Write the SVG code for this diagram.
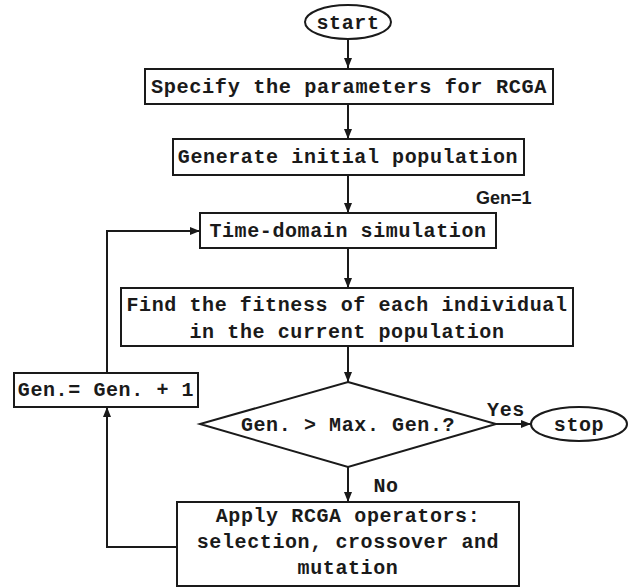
<svg xmlns="http://www.w3.org/2000/svg" width="630" height="588" viewBox="0 0 630 588">
<style>
.n{fill:#fff;stroke:#1a1a1a;stroke-width:2}
.t{font-family:"Liberation Mono","Courier New",monospace;font-weight:bold;font-size:20px;letter-spacing:0.6px;fill:#1a1a1a;text-anchor:middle}
.c{fill:none;stroke:#1a1a1a;stroke-width:2}
.s{font-family:"Liberation Sans",Arial,sans-serif;font-weight:bold;font-size:18px;fill:#1a1a1a}
</style>
<defs>
<marker id="ah" viewBox="0 0 10 10" refX="10" refY="5" markerWidth="10" markerHeight="10" markerUnits="userSpaceOnUse" orient="auto">
<path d="M0,1 L10,5 L0,9 Z" fill="#1a1a1a"/>
</marker>
</defs>
<rect width="630" height="588" fill="#fff"/>
<g id="connectors">
<line class="c" x1="348" y1="40" x2="348" y2="68" marker-end="url(#ah)"/>
<line class="c" x1="348" y1="104" x2="348" y2="139" marker-end="url(#ah)"/>
<line class="c" x1="348" y1="175" x2="348" y2="213" marker-end="url(#ah)"/>
<line class="c" x1="348" y1="248" x2="348" y2="288" marker-end="url(#ah)"/>
<line class="c" x1="348" y1="346" x2="348" y2="382" marker-end="url(#ah)"/>
<line class="c" x1="348" y1="467" x2="348" y2="502" marker-end="url(#ah)"/>
<line class="c" x1="496" y1="424" x2="531" y2="424" marker-end="url(#ah)"/>
<polyline class="c" points="177,547 107,547 107,407" marker-end="url(#ah)"/>
<polyline class="c" points="107,373 107,231 200,231" marker-end="url(#ah)"/>
<text class="s" x="476" y="204">Gen=1</text>
<text class="t" x="506" y="416">Yes</text>
<text class="t" x="386" y="492">No</text>
</g>
<g id="start">
<ellipse class="n" cx="348" cy="22" rx="43" ry="17"/>
<text class="t" x="348" y="29">start</text>
</g>
<g id="specify">
<rect class="n" x="145" y="69" width="408" height="35"/>
<text class="t" x="349" y="93" textLength="396" lengthAdjust="spacingAndGlyphs">Specify the parameters for RCGA</text>
</g>
<g id="generate">
<rect class="n" x="173" y="139" width="351" height="36"/>
<text class="t" x="348" y="163">Generate initial population</text>
</g>
<g id="simulation">
<rect class="n" x="200" y="213" width="296" height="35"/>
<text class="t" x="348" y="237">Time-domain simulation</text>
</g>
<g id="fitness">
<rect class="n" x="121" y="288" width="452" height="58"/>
<text class="t" x="347" y="311">Find the fitness of each individual</text>
<text class="t" x="347" y="338">in the current population</text>
</g>
<g id="decision">
<polygon class="n" points="348,382 496,424 348,467 200,424"/>
<text class="t" x="348" y="431">Gen. &gt; Max. Gen.?</text>
</g>
<g id="stop">
<ellipse class="n" cx="579" cy="424" rx="48" ry="17"/>
<text class="t" x="579" y="431">stop</text>
</g>
<g id="increment">
<rect class="n" x="14" y="373" width="184" height="34"/>
<text class="t" x="106" y="396">Gen.= Gen. + 1</text>
</g>
<g id="operators">
<rect class="n" x="177" y="502" width="342" height="84"/>
<text class="t" x="348" y="522">Apply RCGA operators:</text>
<text class="t" x="348" y="548">selection, crossover and</text>
<text class="t" x="348" y="574">mutation</text>
</g>
</svg>
